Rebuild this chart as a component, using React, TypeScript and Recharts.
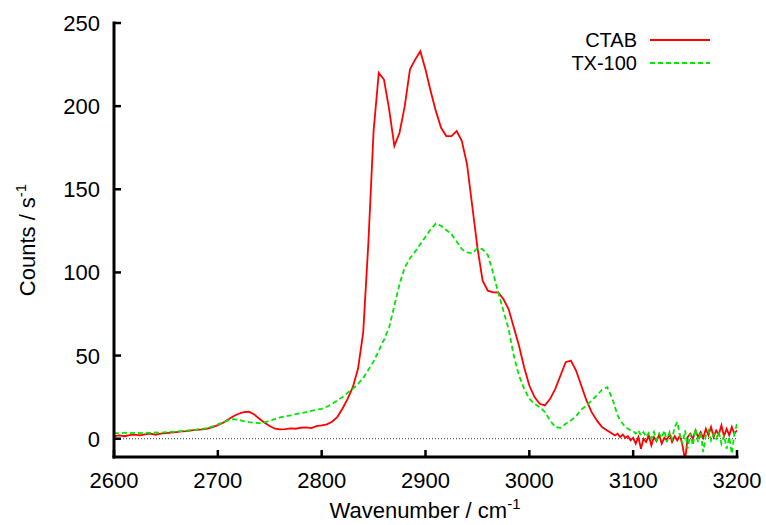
import React from 'react';
import { LineChart, Line, XAxis, YAxis, ReferenceLine, Label } from 'recharts';

// Wavenumber sampling (cm^-1)
const wavenumbers = [
  2600, 2605, 2610, 2615, 2620, 2625, 2630, 2635, 2640, 2645,
  2650, 2655, 2660, 2665, 2670, 2675, 2680, 2685, 2690, 2695,
  2700, 2705, 2710, 2715, 2720, 2725, 2730, 2735, 2740, 2745,
  2750, 2755, 2760, 2765, 2770, 2775, 2780, 2785, 2790, 2795,
  2800, 2805, 2810, 2815, 2820, 2825, 2830, 2835, 2840, 2845,
  2850, 2855, 2860, 2865, 2870, 2875, 2880, 2885, 2890, 2895,
  2900, 2905, 2910, 2915, 2920, 2925, 2930, 2935, 2940, 2945,
  2950, 2955, 2960, 2965, 2970, 2975, 2980, 2985, 2990, 2995,
  3000, 3005, 3010, 3015, 3020, 3025, 3030, 3035, 3040, 3045,
  3050, 3055, 3060, 3065, 3070, 3075, 3080,
  3082.5, 3085, 3087.5, 3090, 3092.5, 3095, 3097.5, 3100,
  3102.5, 3105, 3107.5, 3110, 3112.5, 3115, 3117.5, 3120,
  3122.5, 3125, 3127.5, 3130, 3132.5, 3135, 3137.5, 3140,
  3142.5, 3145, 3147.5, 3150, 3152.5, 3155, 3157.5, 3160,
  3162.5, 3165, 3167.5, 3170, 3172.5, 3175, 3177.5, 3180,
  3182.5, 3185, 3187.5, 3190, 3192.5, 3195, 3197.5, 3200,
];

// CTAB counts / s^-1
const ctabCounts = [
  1.5, 2.0, 1.5, 2.2, 2.5, 2.0, 2.6, 3.0, 2.4, 3.1,
  3.4, 3.6, 4.0, 4.4, 4.6, 5.0, 5.4, 5.6, 6.0, 7.0,
  8.2, 9.6, 11.6, 13.5, 15.0, 16.0, 16.2, 14.6, 12.0, 9.6,
  7.6, 6.0, 5.6, 5.8, 6.2, 6.0, 6.6, 6.8, 6.4, 7.6,
  8.0, 8.6, 10.2, 13.0, 18.0, 24.0, 31.0, 42.0, 64.0, 118.0,
  185.0, 220.0, 216.0, 198.0, 176.0, 184.0, 200.0, 222.0, 228.0, 233.0,
  222.0, 209.0, 197.0, 187.0, 182.0, 182.0, 185.0, 179.0, 165.0, 140.0,
  115.0, 95.0, 89.0, 88.0, 88.0, 84.0, 78.0, 67.0, 56.0, 43.0,
  32.0, 25.0, 21.0, 20.0, 24.0, 30.0, 38.0, 46.0, 47.0, 41.0,
  32.0, 23.0, 16.0, 11.0, 7.0, 5.0, 3.0,
  2.0, 3.0, 1.0, 2.5, 0.5, 1.5, -1.0, 0.5,
  -3.0, 1.0, -6.0, 0.0, -2.0, 2.0, -4.0, 1.0,
  -1.5, 2.5, -3.0, 0.5, -1.0, 3.0, -2.0, 1.5,
  -1.0, 2.0, -4.0, -13.0, 1.0, 3.0, 0.0, 5.0,
  1.0, 4.0, 0.5, 6.0, 2.0, 7.0, 1.0, 5.0,
  2.5, 8.0, 1.5, 6.0, 2.0, 7.0, 3.0, 5.0,
];

// TX-100 counts / s^-1
const tx100Counts = [
  3.5, 3.2, 3.6, 3.3, 3.5, 3.4, 3.7, 3.5, 3.8, 3.6,
  3.9, 4.1, 4.4, 4.6, 4.9, 5.2, 5.5, 5.9, 6.4, 7.4,
  8.6, 9.8, 11.0, 11.8, 11.4, 10.6, 10.0, 9.6, 9.4, 9.8,
  10.8, 11.8, 12.8, 13.4, 14.0, 14.8, 15.4, 16.0, 16.8, 17.4,
  18.0, 19.2, 21.0, 23.0, 25.0, 27.6, 30.0, 33.0, 36.5, 41.5,
  46.5, 53.0, 59.5, 67.0, 80.0, 93.0, 103.0, 108.5, 112.5, 117.0,
  121.5, 126.0, 129.5, 128.0, 125.5, 123.0, 118.5, 114.0, 112.0, 111.5,
  114.5, 114.0, 110.5, 100.0, 88.0, 77.0, 66.0, 50.0, 38.0, 30.0,
  24.0, 21.0, 19.0, 16.0, 11.0, 7.0, 6.5, 9.0, 11.0, 13.5,
  17.5, 20.0, 23.0, 26.0, 29.5, 31.0, 24.0,
  19.0, 14.0, 11.0, 9.0, 7.0, 6.0, 5.0, 4.5,
  3.0, 5.0, 2.0, 4.0, 1.0, 3.5, 0.0, 4.0,
  -1.0, 3.0, 0.5, 5.0, -2.0, 4.0, 0.0, 7.0,
  10.0, 2.0, -3.0, 5.0, -6.0, 3.0, -4.0, 6.0,
  -2.0, 4.0, -8.0, 2.0, 5.0, -1.0, 3.0, 0.0,
  4.0, -3.0, 2.0, -6.0, 1.0, -9.0, 3.0, 9.0,
];

const seriesNames = ['CTAB', 'TX-100'];
const xTicks = [2600, 2700, 2800, 2900, 3000, 3100, 3200];
const yTicks = [0, 50, 100, 150, 200, 250];
const xDomain = [2600, 3200];
const yDomain = [-11, 250];

const data = wavenumbers.map((wn, i) => ({
  wn,
  ctab: ctabCounts[i],
  tx: tx100Counts[i],
}));

const W = 766;
const H = 525;
const PLOT = { left: 114, top: 23, right: 737, bottom: 457 };
const FONT = '"Liberation Sans", Arial, Helvetica, sans-serif';
const FS = 22;
const LEGEND_FS = 20;
const TICK_LEN = 7;
const RED = '#ff0000';
const GREEN = '#00e600';

const BottomTick = (p: any) => (
  <g>
    <line x1={p.x} x2={p.x} y1={PLOT.bottom} y2={PLOT.bottom - TICK_LEN} stroke="#000" strokeWidth={2.5} />
    <text x={p.x} y={PLOT.bottom + 31} textAnchor="middle" fontSize={FS} fontFamily={FONT} fill="#000">
      {p.payload.value}
    </text>
  </g>
);

const TopTick = (p: any) => (
  <line x1={p.x} x2={p.x} y1={PLOT.top} y2={PLOT.top + TICK_LEN} stroke="#000" strokeWidth={2.5} />
);

const LeftTick = (p: any) => (
  <g>
    <line x1={PLOT.left} x2={PLOT.left + TICK_LEN} y1={p.y} y2={p.y} stroke="#000" strokeWidth={2.5} />
    <text x={PLOT.left - 14} y={p.y + 8} textAnchor="end" fontSize={FS} fontFamily={FONT} fill="#000">
      {p.payload.value}
    </text>
  </g>
);

const RightTick = (p: any) => (
  <line x1={PLOT.right} x2={PLOT.right - TICK_LEN} y1={p.y} y2={p.y} stroke="#000" strokeWidth={2.5} />
);

const YTitle = () => (
  <text
    transform={`translate(35, 240) rotate(-90)`}
    textAnchor="middle"
    fontSize={FS}
    fontFamily={FONT}
    fill="#000"
  >
    Counts / s
    <tspan dy={-9} fontSize={15}>-1</tspan>
  </text>
);

const XTitle = () => (
  <text x={425} y={518} textAnchor="middle" fontSize={FS} fontFamily={FONT} fill="#000">
    Wavenumber / cm
    <tspan dy={-9} fontSize={15}>-1</tspan>
  </text>
);

const axisLineStyle = { stroke: '#000', strokeWidth: 3, strokeLinecap: 'square' as const };

export default function App() {
  return (
    <div style={{ position: 'absolute', left: 0, top: 0, width: W, height: H, background: '#fff' }}>
      <LineChart
        width={W}
        height={H}
        data={data}
        margin={{ top: PLOT.top, right: W - PLOT.right, bottom: 0, left: 0 }}
      >
        <XAxis
          dataKey="wn"
          type="number"
          domain={xDomain}
          ticks={xTicks}
          allowDataOverflow
          height={H - PLOT.bottom}
          axisLine={axisLineStyle}
          tickLine={false}
          tick={<BottomTick />}
          interval={0}
        >
          <Label content={() => <XTitle />} />
        </XAxis>
        <XAxis
          xAxisId="top"
          orientation="top"
          dataKey="wn"
          type="number"
          domain={xDomain}
          ticks={xTicks}
          allowDataOverflow
          height={0}
          axisLine={axisLineStyle}
          tickLine={false}
          tick={<TopTick />}
          interval={0}
        />
        <YAxis
          type="number"
          domain={yDomain}
          ticks={yTicks}
          allowDataOverflow
          width={PLOT.left}
          axisLine={axisLineStyle}
          tickLine={false}
          tick={<LeftTick />}
          interval={0}
        >
          <Label content={() => <YTitle />} />
        </YAxis>
        <YAxis
          yAxisId="right"
          orientation="right"
          type="number"
          domain={yDomain}
          ticks={yTicks}
          allowDataOverflow
          width={0}
          axisLine={axisLineStyle}
          tickLine={false}
          tick={<RightTick />}
          interval={0}
        />
        <ReferenceLine y={0} stroke="#333" strokeWidth={1} strokeDasharray="1 2" />
        <Line
          type="linear"
          dataKey="ctab"
          name={seriesNames[0]}
          stroke={RED}
          strokeWidth={1.8}
          dot={false}
          isAnimationActive={false}
        />
        <Line
          type="linear"
          dataKey="tx"
          name={seriesNames[1]}
          stroke={GREEN}
          strokeWidth={1.8}
          strokeDasharray="5 3"
          dot={false}
          isAnimationActive={false}
        />
      </LineChart>
      <svg
        width={W}
        height={H}
        style={{ position: 'absolute', left: 0, top: 0, pointerEvents: 'none' }}
      >
        {seriesNames.map((name, i) => (
          <g key={name}>
            <text
              x={637}
              y={47 + i * 23}
              textAnchor="end"
              fontSize={LEGEND_FS}
              fontFamily={FONT}
              fill="#000"
            >
              {name}
            </text>
            <line
              x1={650}
              x2={710}
              y1={40 + i * 23}
              y2={40 + i * 23}
              stroke={i === 0 ? RED : GREEN}
              strokeWidth={1.8}
              strokeDasharray={i === 0 ? undefined : '5 3'}
            />
          </g>
        ))}
      </svg>
    </div>
  );
}
